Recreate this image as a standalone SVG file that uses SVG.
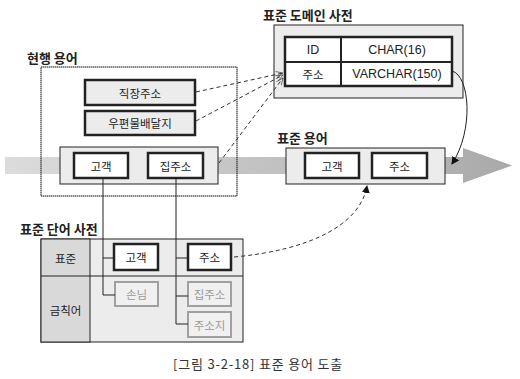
<svg xmlns="http://www.w3.org/2000/svg" width="520" height="379" viewBox="0 0 520 379">
<style>
text{font-family:"Noto Sans CJK KR","Noto Sans",sans-serif;fill:#222;}
.title{font-size:13px;font-weight:bold;}
.lbl{font-size:11.5px;text-anchor:middle;dominant-baseline:central;}
.glbl{font-size:11.5px;text-anchor:middle;dominant-baseline:central;fill:#9a9a9a;}
.thick{fill:#fff;stroke:#222;stroke-width:2.5;}
.thickg{fill:#ececec;stroke:#222;stroke-width:2.5;}
.gray{fill:#f0f0f0;stroke:#a0a0a0;stroke-width:2;}
.cont{fill:#ececec;stroke:#222;stroke-width:1;}
.dotbox{fill:none;stroke:#111;stroke-width:1;stroke-dasharray:1.5 0.5;}
.conn{fill:none;stroke:#222;stroke-width:1;}
.dash{fill:none;stroke:#333;stroke-width:1;stroke-dasharray:4 3;}
.cell{font-size:12.5px;text-anchor:middle;dominant-baseline:central;font-family:"Liberation Sans","Noto Sans CJK KR",sans-serif;}
</style>
<defs>
<linearGradient id="band" x1="0" y1="0" x2="1" y2="0">
<stop offset="0" stop-color="#dcdcdc"/>
<stop offset="1" stop-color="#a9a9a9"/>
</linearGradient>
<marker id="ah" markerWidth="8" markerHeight="8" refX="7" refY="4" orient="auto" markerUnits="userSpaceOnUse">
<path d="M0,0 L8,4 L0,8 Z" fill="#111"/>
</marker>
<marker id="oh" markerWidth="8" markerHeight="8" refX="7" refY="4" orient="auto" markerUnits="userSpaceOnUse">
<path d="M0,1 L7,4 L0,7" fill="none" stroke="#555" stroke-width="0.8"/>
</marker>
</defs>

<g id="band-arrow">
<path d="M5,157 L463,157 L463,148 L512,165.5 L463,183 L463,174 L5,174 Z" fill="url(#band)"/>
</g>

<g id="current-terms">
<text class="title" x="27" y="63">현행 용어</text>
<rect class="dotbox" x="41" y="67" width="196" height="129"/>
<g id="n-jikjang"><rect class="thickg" x="85" y="80" width="110" height="25"/><text class="lbl" x="140" y="92.5">직장주소</text></g>
<g id="n-upyeon"><rect class="thickg" x="85" y="111" width="110" height="24"/><text class="lbl" x="140" y="123">우편물배달지</text></g>
<g id="n-cur-group"><rect class="cont" x="60" y="147" width="158" height="37"/></g>
<g id="n-cur-gogaek"><rect class="thick" x="74" y="153" width="54" height="25"/><text class="lbl" x="101" y="165.5">고객</text></g>
<g id="n-cur-jipjuso"><rect class="thick" x="148" y="153" width="55" height="25"/><text class="lbl" x="175.5" y="165.5">집주소</text></g>
</g>

<g id="domain-dict">
<text class="title" x="263" y="20">표준 도메인 사전</text>
<rect class="cont" x="274" y="25" width="189" height="73"/>
<rect class="thick" x="285" y="37" width="167" height="49"/>
<line x1="285" y1="62" x2="452" y2="62" stroke="#222" stroke-width="2"/>
<line x1="341" y1="37" x2="341" y2="86" stroke="#222" stroke-width="2"/>
<text class="cell" x="313" y="50">ID</text>
<text class="cell" x="397" y="50">CHAR(16)</text>
<text class="cell" x="313" y="74" style="font-family:'Noto Sans CJK KR',sans-serif;font-size:11.5px">주소</text>
<text class="cell" x="397" y="74">VARCHAR(150)</text>
</g>

<g id="std-terms">
<text class="title" x="277" y="143">표준 용어</text>
<rect class="cont" x="286" y="148" width="159" height="36"/>
<g id="n-std-gogaek"><rect class="thick" x="305" y="153" width="54" height="25"/><text class="lbl" x="332" y="165.5">고객</text></g>
<g id="n-std-juso"><rect class="thick" x="372" y="153" width="55" height="25"/><text class="lbl" x="399.5" y="165.5">주소</text></g>
</g>

<g id="word-dict">
<text class="title" x="20" y="234">표준 단어 사전</text>
<rect x="41" y="239" width="202" height="103" fill="#ececec" stroke="#222" stroke-width="1"/>
<rect x="41" y="239" width="49" height="103" fill="#d9d9d9" stroke="#222" stroke-width="1"/>
<line x1="41" y1="276" x2="243" y2="276" stroke="#222" stroke-width="1"/>
<text class="lbl" x="65.5" y="258">표준</text>
<text class="lbl" x="65.5" y="310">금칙어</text>
<g id="n-w-gogaek"><rect class="thick" x="114" y="244" width="44" height="26"/><text class="lbl" x="136" y="257">고객</text></g>
<g id="n-w-juso"><rect class="thick" x="188" y="244" width="43" height="26"/><text class="lbl" x="209.5" y="257">주소</text></g>
<g id="n-w-sonnim"><rect class="gray" x="115" y="282" width="43" height="24"/><text class="glbl" x="136.5" y="294">손님</text></g>
<g id="n-w-jipjuso"><rect class="gray" x="188" y="282" width="43" height="24"/><text class="glbl" x="209.5" y="294">집주소</text></g>
<g id="n-w-jusoji"><rect class="gray" x="188" y="312" width="43" height="25"/><text class="glbl" x="209.5" y="324.5">주소지</text></g>
</g>

<g id="connectors">
<path class="conn" d="M103,178 V295 H115 M103,258 H114"/>
<path class="conn" d="M176,178 V324 H188 M176,258 H188 M176,296 H188"/>
<line class="dash" x1="196" y1="92" x2="283" y2="73" marker-end="url(#oh)"/>
<line class="dash" x1="196" y1="121" x2="283" y2="75" marker-end="url(#oh)"/>
<line class="dash" x1="219" y1="163" x2="283" y2="78" marker-end="url(#oh)"/>
<path class="conn" d="M452,71 C470,76 474,130 452,164" marker-end="url(#ah)"/>
<path class="dash" d="M234,257 C310,250 360,225 367,186" marker-end="url(#ah)"/>
</g>

<text x="173" y="369" style="font-size:13px;letter-spacing:0.8px;fill:#333">[그림 3-2-18] 표준 용어 도출</text>
</svg>
